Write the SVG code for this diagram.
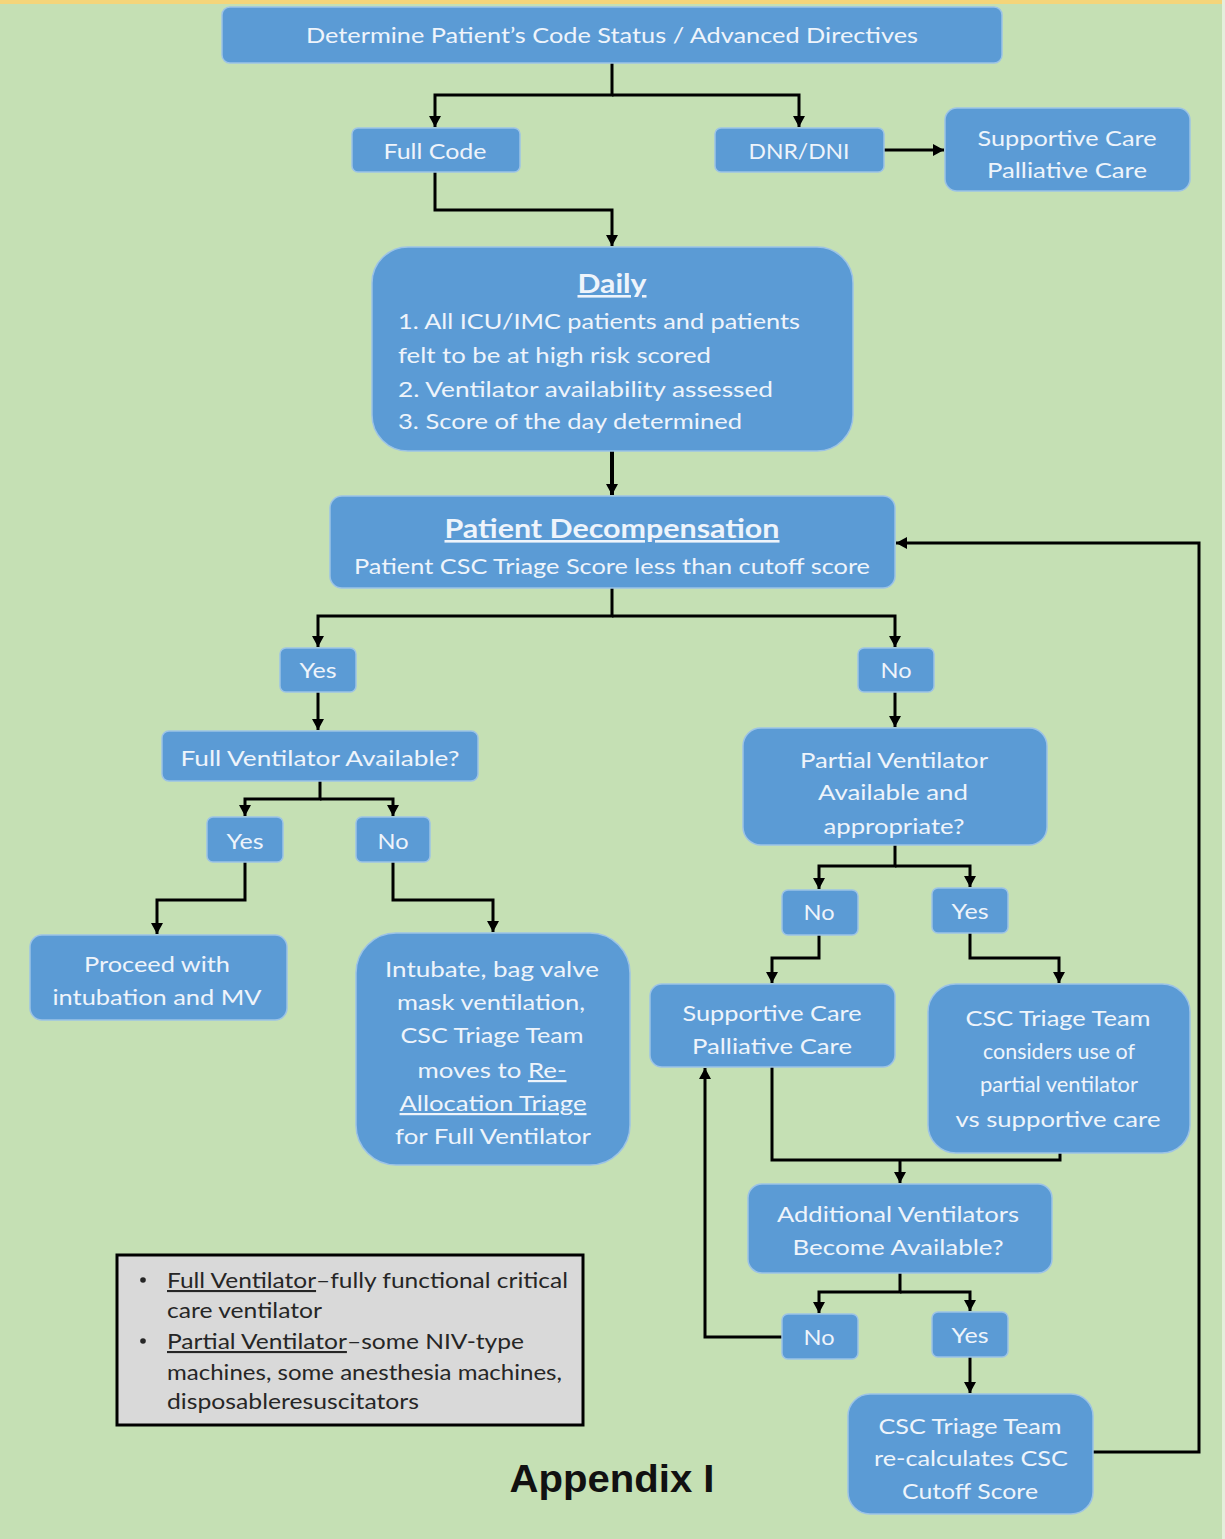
<svg xmlns="http://www.w3.org/2000/svg" width="1225" height="1539" viewBox="0 0 1225 1539">
  <defs>
    <style>
      .box { fill: #5b9bd5; stroke: #9cc3e6; stroke-width: 1.5; }
      .t { font-family: Lato, "Open Sans", "Liberation Sans", sans-serif; font-size: 22px; fill: #eef4fb; text-anchor: middle; }
      .tl { text-anchor: start; }
      .b { font-weight: bold; font-size: 26px; }
      .u { text-decoration: underline; }
      .wire { fill: none; stroke: #000; stroke-width: 3; stroke-linejoin: miter; }
      .legend { fill: #d9d9d9; stroke: #000; stroke-width: 3; }
      .lt { font-family: Lato, "Open Sans", "Liberation Sans", sans-serif; font-size: 21px; fill: #262626; }
    </style>
    <marker id="arr" markerUnits="userSpaceOnUse" markerWidth="12" markerHeight="12" refX="11" refY="6" orient="auto">
      <path d="M0,0 L11,6 L0,12 z" fill="#000"/>
    </marker>
  </defs>

  <!-- page background -->
  <rect x="0" y="0" width="1225" height="1539" fill="#c5e0b4"/>
  <rect x="0" y="0" width="1225" height="4" fill="#f4d57a"/>
  <rect x="1222" y="0" width="3" height="1539" fill="#e4efdc"/>

  <!-- connectors -->
  <g id="connectors">
    <polyline class="wire" points="612,63 612,95 435,95 435,127" marker-end="url(#arr)"/>
    <polyline class="wire" points="612,95 799,95 799,127" marker-end="url(#arr)"/>
    <polyline class="wire" points="884,150 944,150" marker-end="url(#arr)"/>
    <polyline class="wire" points="435,172 435,210 612,210 612,246" marker-end="url(#arr)"/>
    <polyline class="wire" points="612,451 612,495" marker-end="url(#arr)" style="stroke-width:4"/>
    <polyline class="wire" points="612,588 612,616 318,616 318,647" marker-end="url(#arr)"/>
    <polyline class="wire" points="612,616 895,616 895,647" marker-end="url(#arr)"/>
    <polyline class="wire" points="318,692 318,730" marker-end="url(#arr)"/>
    <polyline class="wire" points="320,781 320,799 245,799 245,816" marker-end="url(#arr)"/>
    <polyline class="wire" points="320,799 393,799 393,816" marker-end="url(#arr)"/>
    <polyline class="wire" points="245,862 245,900 157,900 157,934" marker-end="url(#arr)"/>
    <polyline class="wire" points="393,862 393,900 493,900 493,932" marker-end="url(#arr)"/>
    <polyline class="wire" points="895,692 895,727" marker-end="url(#arr)"/>
    <polyline class="wire" points="895,845 895,866 819,866 819,889" marker-end="url(#arr)"/>
    <polyline class="wire" points="895,866 970,866 970,887" marker-end="url(#arr)"/>
    <polyline class="wire" points="819,935 819,958 772,958 772,983" marker-end="url(#arr)"/>
    <polyline class="wire" points="970,933 970,958 1059,958 1059,983" marker-end="url(#arr)"/>
    <polyline class="wire" points="772,1067 772,1160 1060,1160 1060,1153"/>
    <polyline class="wire" points="900,1160 900,1183" marker-end="url(#arr)"/>
    <polyline class="wire" points="900,1273 900,1292 819,1292 819,1313" marker-end="url(#arr)"/>
    <polyline class="wire" points="900,1292 970,1292 970,1311" marker-end="url(#arr)"/>
    <polyline class="wire" points="782,1337 705,1337 705,1068" marker-end="url(#arr)"/>
    <polyline class="wire" points="970,1357 970,1393" marker-end="url(#arr)"/>
    <polyline class="wire" points="1093,1452 1199,1452 1199,543 896,543" marker-end="url(#arr)"/>
  </g>

  <g id="code-status">
    <rect class="box" x="222" y="7" width="780" height="56" rx="8"/>
    <text class="t" x="612" y="43" textLength="612" lengthAdjust="spacingAndGlyphs">Determine Patient’s Code Status / Advanced Directives</text>
  </g>

  <g id="full-code">
    <rect class="box" x="352" y="128" width="168" height="44" rx="6"/>
    <text class="t" x="435" y="159" textLength="103" lengthAdjust="spacingAndGlyphs">Full Code</text>
  </g>

  <g id="dnr-dni">
    <rect class="box" x="715" y="128" width="169" height="44" rx="6"/>
    <text class="t" x="799" y="159" textLength="101" lengthAdjust="spacingAndGlyphs">DNR/DNI</text>
  </g>

  <g id="supportive-care-top">
    <rect class="box" x="945" y="108" width="245" height="83" rx="12"/>
    <text class="t" x="1067" y="146" textLength="179" lengthAdjust="spacingAndGlyphs">Supportive  Care</text>
    <text class="t" x="1067" y="178" textLength="160" lengthAdjust="spacingAndGlyphs">Palliative Care</text>
  </g>

  <g id="daily">
    <rect class="box" x="372" y="247" width="481" height="204" rx="36"/>
    <text class="t b u" x="612" y="293" textLength="69" lengthAdjust="spacingAndGlyphs">Daily</text>
    <text class="t tl" x="398" y="329" textLength="402" lengthAdjust="spacingAndGlyphs">1. All ICU/IMC patients and patients</text>
    <text class="t tl" x="398" y="363" textLength="313" lengthAdjust="spacingAndGlyphs">felt to be at high risk scored</text>
    <text class="t tl" x="398" y="397" textLength="375" lengthAdjust="spacingAndGlyphs">2. Ventilator availability assessed</text>
    <text class="t tl" x="398" y="429" textLength="344" lengthAdjust="spacingAndGlyphs">3. Score of the day determined</text>
  </g>

  <g id="decompensation">
    <rect class="box" x="330" y="496" width="565" height="92" rx="12"/>
    <text class="t b u" x="612" y="538" textLength="335" lengthAdjust="spacingAndGlyphs">Patient Decompensation</text>
    <text class="t" x="612" y="574" textLength="516" lengthAdjust="spacingAndGlyphs">Patient CSC Triage Score less than cutoff score</text>
  </g>

  <g id="yes-score">
    <rect class="box" x="280" y="648" width="76" height="44" rx="6"/>
    <text class="t" x="318" y="678" textLength="37" lengthAdjust="spacingAndGlyphs">Yes</text>
  </g>

  <g id="no-score">
    <rect class="box" x="858" y="648" width="76" height="44" rx="6"/>
    <text class="t" x="896" y="678" textLength="31" lengthAdjust="spacingAndGlyphs">No</text>
  </g>

  <g id="full-vent-q">
    <rect class="box" x="162" y="731" width="316" height="50" rx="7"/>
    <text class="t" x="320" y="766" textLength="279" lengthAdjust="spacingAndGlyphs">Full Ventilator Available?</text>
  </g>

  <g id="yes-full">
    <rect class="box" x="207" y="817" width="76" height="45" rx="6"/>
    <text class="t" x="245" y="849" textLength="37" lengthAdjust="spacingAndGlyphs">Yes</text>
  </g>

  <g id="no-full">
    <rect class="box" x="356" y="817" width="74" height="45" rx="6"/>
    <text class="t" x="393" y="849" textLength="31" lengthAdjust="spacingAndGlyphs">No</text>
  </g>

  <g id="proceed">
    <rect class="box" x="30" y="935" width="257" height="85" rx="12"/>
    <text class="t" x="157" y="972" textLength="146" lengthAdjust="spacingAndGlyphs">Proceed with</text>
    <text class="t" x="157" y="1005" textLength="209" lengthAdjust="spacingAndGlyphs">intubation and MV</text>
  </g>

  <g id="intubate">
    <rect class="box" x="356" y="933" width="274" height="232" rx="40"/>
    <text class="t" x="492" y="977" textLength="214" lengthAdjust="spacingAndGlyphs">Intubate, bag valve</text>
    <text class="t" x="491" y="1010" textLength="188" lengthAdjust="spacingAndGlyphs">mask ventilation,</text>
    <text class="t" x="492" y="1043" textLength="183" lengthAdjust="spacingAndGlyphs">CSC Triage Team</text>
    <text class="t" x="492" y="1078" textLength="149" lengthAdjust="spacingAndGlyphs">moves to <tspan class="u">Re-</tspan></text>
    <text class="t u" x="493" y="1111" textLength="187" lengthAdjust="spacingAndGlyphs">Allocation Triage</text>
    <text class="t" x="493" y="1144" textLength="196" lengthAdjust="spacingAndGlyphs">for Full Ventilator</text>
  </g>

  <g id="partial-vent-q">
    <rect class="box" x="743" y="728" width="304" height="117" rx="18"/>
    <text class="t" x="894" y="768" textLength="188" lengthAdjust="spacingAndGlyphs">Partial Ventilator</text>
    <text class="t" x="893" y="800" textLength="150" lengthAdjust="spacingAndGlyphs">Available and</text>
    <text class="t" x="894" y="834" textLength="141" lengthAdjust="spacingAndGlyphs">appropriate?</text>
  </g>

  <g id="no-partial">
    <rect class="box" x="782" y="890" width="76" height="45" rx="6"/>
    <text class="t" x="819" y="920" textLength="31" lengthAdjust="spacingAndGlyphs">No</text>
  </g>

  <g id="yes-partial">
    <rect class="box" x="932" y="888" width="76" height="45" rx="6"/>
    <text class="t" x="970" y="919" textLength="37" lengthAdjust="spacingAndGlyphs">Yes</text>
  </g>

  <g id="supportive-care-mid">
    <rect class="box" x="650" y="984" width="245" height="83" rx="12"/>
    <text class="t" x="772" y="1021" textLength="179" lengthAdjust="spacingAndGlyphs">Supportive  Care</text>
    <text class="t" x="772" y="1054" textLength="160" lengthAdjust="spacingAndGlyphs">Palliative Care</text>
  </g>

  <g id="considers-partial">
    <rect class="box" x="928" y="984" width="262" height="169" rx="28"/>
    <text class="t" x="1058" y="1026" textLength="185" lengthAdjust="spacingAndGlyphs">CSC Triage Team</text>
    <text class="t" x="1059" y="1059" textLength="152" lengthAdjust="spacingAndGlyphs">considers use of</text>
    <text class="t" x="1059" y="1092" textLength="158" lengthAdjust="spacingAndGlyphs">partial ventilator</text>
    <text class="t" x="1058" y="1127" textLength="205" lengthAdjust="spacingAndGlyphs">vs supportive  care</text>
  </g>

  <g id="additional-q">
    <rect class="box" x="748" y="1184" width="304" height="89" rx="14"/>
    <text class="t" x="898" y="1222" textLength="242" lengthAdjust="spacingAndGlyphs">Additional Ventilators</text>
    <text class="t" x="898" y="1255" textLength="211" lengthAdjust="spacingAndGlyphs">Become Available?</text>
  </g>

  <g id="no-additional">
    <rect class="box" x="782" y="1314" width="76" height="45" rx="6"/>
    <text class="t" x="819" y="1345" textLength="31" lengthAdjust="spacingAndGlyphs">No</text>
  </g>

  <g id="yes-additional">
    <rect class="box" x="932" y="1312" width="76" height="45" rx="6"/>
    <text class="t" x="970" y="1343" textLength="37" lengthAdjust="spacingAndGlyphs">Yes</text>
  </g>

  <g id="recalculate">
    <rect class="box" x="848" y="1394" width="245" height="120" rx="22"/>
    <text class="t" x="970" y="1434" textLength="183" lengthAdjust="spacingAndGlyphs">CSC Triage Team</text>
    <text class="t" x="971" y="1466" textLength="194" lengthAdjust="spacingAndGlyphs">re-calculates CSC</text>
    <text class="t" x="970" y="1499" textLength="136" lengthAdjust="spacingAndGlyphs">Cutoff Score</text>
  </g>

  <g id="legend">
    <rect class="legend" x="117" y="1255" width="466" height="170"/>
    <circle cx="143" cy="1280" r="2.8" fill="#262626"/>
    <circle cx="143" cy="1341" r="2.8" fill="#262626"/>
    <text class="lt" x="167" y="1288" textLength="401" lengthAdjust="spacingAndGlyphs"><tspan class="u">Full Ventilator</tspan>–fully functional critical</text>
    <text class="lt" x="167" y="1318" textLength="155" lengthAdjust="spacingAndGlyphs">care ventilator</text>
    <text class="lt" x="167" y="1349" textLength="357" lengthAdjust="spacingAndGlyphs"><tspan class="u">Partial Ventilator</tspan>–some NIV-type</text>
    <text class="lt" x="167" y="1380" textLength="395" lengthAdjust="spacingAndGlyphs">machines, some anesthesia machines,</text>
    <text class="lt" x="167" y="1409" textLength="252" lengthAdjust="spacingAndGlyphs">disposableresuscitators</text>
  </g>

  <g id="caption">
    <text x="612" y="1492" font-family="'Liberation Sans', Arial, sans-serif" font-weight="bold" font-size="39" fill="#111" text-anchor="middle" textLength="205" lengthAdjust="spacingAndGlyphs">Appendix I</text>
  </g>
</svg>
